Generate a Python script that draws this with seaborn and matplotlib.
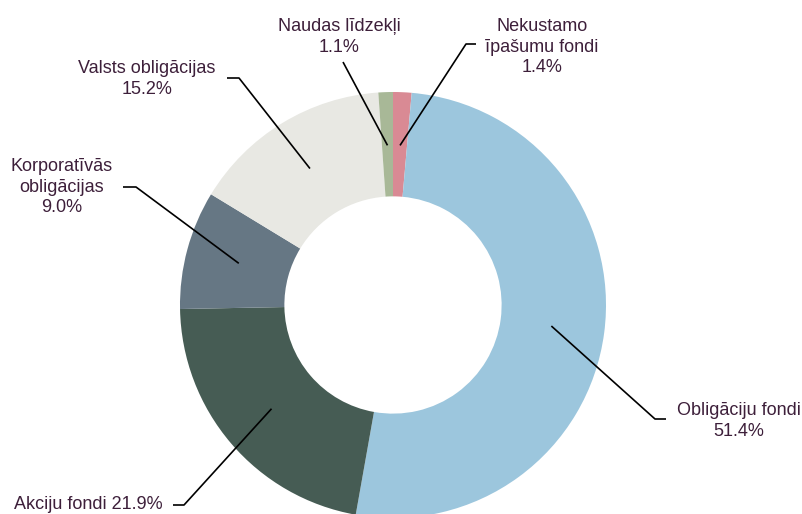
import numpy as np
import matplotlib
matplotlib.use("Agg")
import matplotlib.pyplot as plt
import seaborn as sns

# dati (clockwise from 12 o'clock)
labels = ["Nekustamo\nīpašumu fondi", "Obligāciju fondi", "Akciju fondi",
          "Korporatīvās\nobligācijas", "Valsts obligācijas", "Naudas līdzekļi"]
shares = [1.4, 51.4, 21.9, 9.0, 15.2, 1.1]
colors = ["#d98a94", "#9cc6dd", "#465c54", "#667784", "#e8e8e3", "#a8b897"]

sns.set_theme(style="white")
plt.rcParams["font.family"] = ["Liberation Sans", "DejaVu Sans"]
txt_color = "#3d1f3a"

W, H = 803, 514
cx, cy, R = 393, 305, 213  # pie centre / radius in pixels


def to_data(px, py):
    return (px - cx) / R, (cy - py) / R


fig = plt.figure(figsize=(W / 100, H / 100), dpi=100)
ax = fig.add_axes([0, 0, 1, 1])
ax.pie(shares, colors=colors, startangle=90, counterclock=False, radius=1,
       wedgeprops=dict(width=0.49, linewidth=0))
ax.set_xlim(-cx / R, (W - cx) / R)
ax.set_ylim(-(H - cy) / R, cy / R)
ax.set_aspect("equal")
ax.axis("off")

# label layout: text centre, elbow point, end of horizontal tick (pixels)
layout = [
    dict(text=(542, 47), elbow=(466, 44), tick=(476, 44)),
    dict(text=(739, 421), elbow=(655, 419), tick=(666, 419)),
    dict(text=(88, 505), elbow=(184, 505), tick=(173, 505)),
    dict(text=(62, 187), elbow=(136, 187), tick=(123, 187)),
    dict(text=(147, 79), elbow=(239, 78), tick=(227, 78)),
    dict(text=(339, 37), elbow=(343, 62), tick=(343, 62)),
]

cum = np.cumsum([0] + shares)
total = cum[-1]
for i, (lab, val) in enumerate(zip(labels, shares)):
    mid = (cum[i] + val / 2) / total * 2 * np.pi
    ax_x, ax_y = 0.75 * np.sin(mid), 0.75 * np.cos(mid)
    lay = layout[i]
    ex, ey = to_data(*lay["elbow"])
    tx, ty = to_data(*lay["tick"])
    ax.plot([ax_x, ex, tx], [ax_y, ey, ty], color="black", lw=1.2,
            solid_capstyle="butt")
    sep = " " if lab == "Akciju fondi" else "\n"
    px, py = to_data(*lay["text"])
    ax.text(px, py, f"{lab}{sep}{val:.1f}%", ha="center", va="center",
            fontsize=13, color=txt_color, linespacing=1.27)

fig.savefig("out.png", dpi=100)
